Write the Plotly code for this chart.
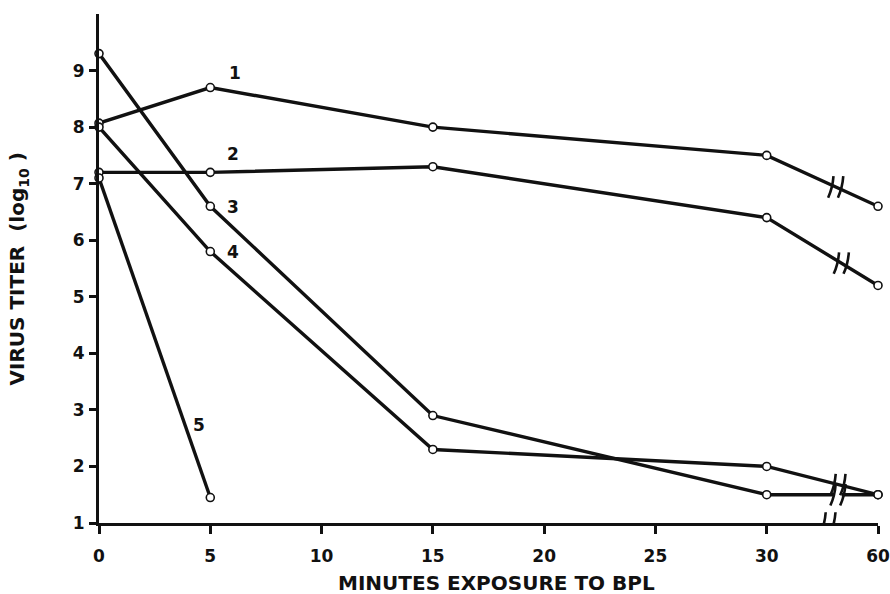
import plotly.graph_objects as go

# ---- data ----
minutes = [0, 5, 15, 30, 60]
tick_minutes = [0, 5, 10, 15, 20, 25, 30, 60]
tick_positions = [0, 5, 10, 15, 20, 25, 30, 35]   # 60 min drawn after an axis break
series1 = [8.07, 8.7, 8.0, 7.5, 6.6]
series2 = [7.2, 7.2, 7.3, 6.4, 5.2]
series3 = [9.3, 6.6, 2.9, 1.5, 1.5]
series4 = [8.0, 5.8, 2.3, 2.0, 1.5]
series5_minutes = [0, 5]
series5 = [7.1, 1.45]
series_names = ["1", "2", "3", "4", "5"]
y_ticks = [1, 2, 3, 4, 5, 6, 7, 8, 9]

pos_map = dict(zip(tick_minutes, tick_positions))

def to_pos(ms):
    return [pos_map[m] for m in ms]

FONT = "DejaVu Sans"
BLACK = "#111111"

fig = go.Figure()

all_series = [
    (minutes, series1),
    (minutes, series2),
    (minutes, series3),
    (minutes, series4),
    (series5_minutes, series5),
]
for (xs, ys), name in zip(all_series, series_names):
    fig.add_trace(go.Scatter(
        x=to_pos(xs), y=ys, mode="lines+markers", name=name,
        line=dict(color=BLACK, width=3.4),
        marker=dict(symbol="circle", size=8, color="white",
                    line=dict(color=BLACK, width=1.6)),
        cliponaxis=False, showlegend=False, hoverinfo="skip",
    ))

# series labels
label_pos = [(6.1, 8.95), (6.0, 7.52), (6.0, 6.58), (6.0, 5.8), (4.5, 2.73)]
for name, (lx, ly) in zip(series_names, label_pos):
    fig.add_annotation(x=lx, y=ly, text=name, showarrow=False,
                       font=dict(family=FONT, size=17, color=BLACK, weight="bold"))

shapes = []

def break_marks(xc, yc, gap=True, half_w=0.22, h=0.19):
    # white gap and two slanted strokes
    if gap:
        shapes.append(dict(type="line", xref="x", yref="y",
                           x0=xc - half_w + 0.05, x1=xc + half_w - 0.05,
                           y0=yc, y1=yc, line=dict(color="white", width=6), layer="above"))
    for dx in (-half_w, half_w):
        x = xc + dx
        path = (f"M {x-0.12},{yc-h} Q {x+0.08},{yc-0.02} {x+0.12},{yc+h}")
        shapes.append(dict(type="path", xref="x", yref="y", path=path,
                           line=dict(color=BLACK, width=2.6), layer="above"))

def interp(p, ys):
    y30, y60 = ys[3], ys[4]
    return y30 + (y60 - y30) * (p - 30) / 5

break_marks(33.1, interp(33.1, series1), gap=False)
break_marks(33.35, interp(33.35, series2), gap=False)
break_marks(33.2, interp(33.2, series3), gap=True)
break_marks(33.2, interp(33.2, series4), gap=False)
break_marks(32.75, 1.0, gap=True)

fig.update_layout(shapes=shapes)

fig.update_xaxes(range=[0, 35], tickvals=tick_positions,
                 ticktext=[str(t) for t in tick_minutes],
                 showline=True, linecolor=BLACK, linewidth=3,
                 ticks="outside", ticklen=8, tickwidth=2.5, tickcolor=BLACK,
                 showgrid=False, zeroline=False, ticklabelstandoff=8,
                 automargin=False,
                 tickfont=dict(family=FONT, size=17, color=BLACK, weight="bold"))
fig.update_yaxes(range=[1, 10], tickvals=y_ticks,
                 showline=True, linecolor=BLACK, linewidth=3,
                 ticks="outside", ticklen=7, tickwidth=2.5, tickcolor=BLACK,
                 showgrid=False, zeroline=False, ticklabelstandoff=1,
                 automargin=False,
                 tickfont=dict(family=FONT, size=17, color=BLACK, weight="bold"))

fig.add_annotation(xref="paper", yref="paper", x=-0.104, y=0.5,
                   text="VIRUS TITER  (log<sub>10</sub> )", textangle=-90,
                   showarrow=False, xanchor="center", yanchor="middle",
                   font=dict(family=FONT, size=20, color=BLACK, weight="bold"))
fig.add_annotation(xref="paper", yref="paper", x=0.51, y=-0.117,
                   text="MINUTES EXPOSURE TO BPL", showarrow=False,
                   xanchor="center", yanchor="middle",
                   font=dict(family=FONT, size=20, color=BLACK, weight="bold"))

fig.update_layout(width=890, height=594,
                  margin=dict(l=99, r=12, t=14, b=71),
                  paper_bgcolor="white", plot_bgcolor="white")

fig.write_html("out.html", config={"displayModeBar": False},
               post_script="document.body.style.margin='0';document.body.style.overflow='hidden';")
